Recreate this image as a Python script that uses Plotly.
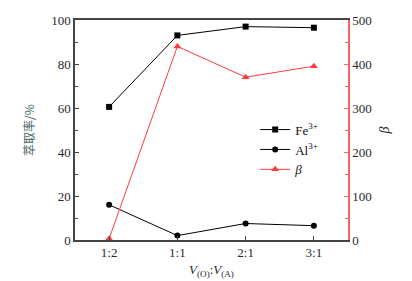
import plotly.graph_objects as go

categories = ["1:2", "1:1", "2:1", "3:1"]
fe = [60.5, 93.0, 97.0, 96.5]
al = [16.0, 2.0, 7.5, 6.5]
beta = [3, 440, 370, 395]

font = "Liberation Serif"
fig = go.Figure()
fig.add_trace(go.Scatter(x=categories, y=fe, name="Fe<sup>3+</sup>", mode="lines+markers",
                         line=dict(color="black", width=1), marker=dict(symbol="square", size=6, color="black")))
fig.add_trace(go.Scatter(x=categories, y=al, name="Al<sup>3+</sup>", mode="lines+markers",
                         line=dict(color="black", width=1), marker=dict(symbol="circle", size=6, color="black")))
fig.add_trace(go.Scatter(x=categories, y=beta, name="<i>β</i>", mode="lines+markers", yaxis="y2",
                         line=dict(color="#ff3b3b", width=1), marker=dict(symbol="triangle-up", size=7, color="#ff3b3b")))

fig.update_layout(
    width=412, height=281, margin=dict(l=75, r=64, t=20, b=41, autoexpand=False),
    paper_bgcolor="white", plot_bgcolor="white",
    font=dict(family=font, size=13, color="#2a2a2a"),
    showlegend=True,
    legend=dict(x=0.66, y=0.57, xanchor="left", yanchor="top", bgcolor="rgba(0,0,0,0)",
                font=dict(size=13, family=font, color="#111"), tracegroupgap=0, itemwidth=30),
    xaxis=dict(type="category", range=[-0.5, 3.5], showline=True, linecolor="#444", linewidth=1.5,
               mirror=True, ticks="inside", ticklen=4, tickcolor="#444", showgrid=False, zeroline=False,
               automargin=False,
               title=dict(text="<i>V</i><sub>(O)</sub>:<i>V</i><sub>(A)</sub>", standoff=6, font=dict(size=13))),
    yaxis=dict(range=[0, 100], dtick=20, showline=True, linecolor="#444", linewidth=1.5,
               ticks="inside", ticklen=4, tickcolor="#444", showgrid=False, zeroline=False,
               automargin=False,
               minor=dict(ticks="inside", dtick=10, ticklen=3, tickcolor="#444"),
               title=dict(text="萃取率/%", font=dict(size=12, color="#4a6a6a", family="Noto Sans CJK SC"), standoff=14)),
    yaxis2=dict(range=[0, 500], dtick=100, overlaying="y", side="right", showline=True,
                linecolor="#ff6060", linewidth=1.5, ticks="inside", ticklen=4, tickcolor="#ff6060",
                minor=dict(ticks="inside", dtick=50, ticklen=3, tickcolor="#ff6060"),
                showgrid=False, zeroline=False, automargin=False,
                title=dict(text="<i>β</i>", font=dict(size=14), standoff=8)),
)
fig.write_html("out.html", config={"displayModeBar": False},
               post_script="document.body.style.margin='0';document.body.style.overflow='hidden';")
